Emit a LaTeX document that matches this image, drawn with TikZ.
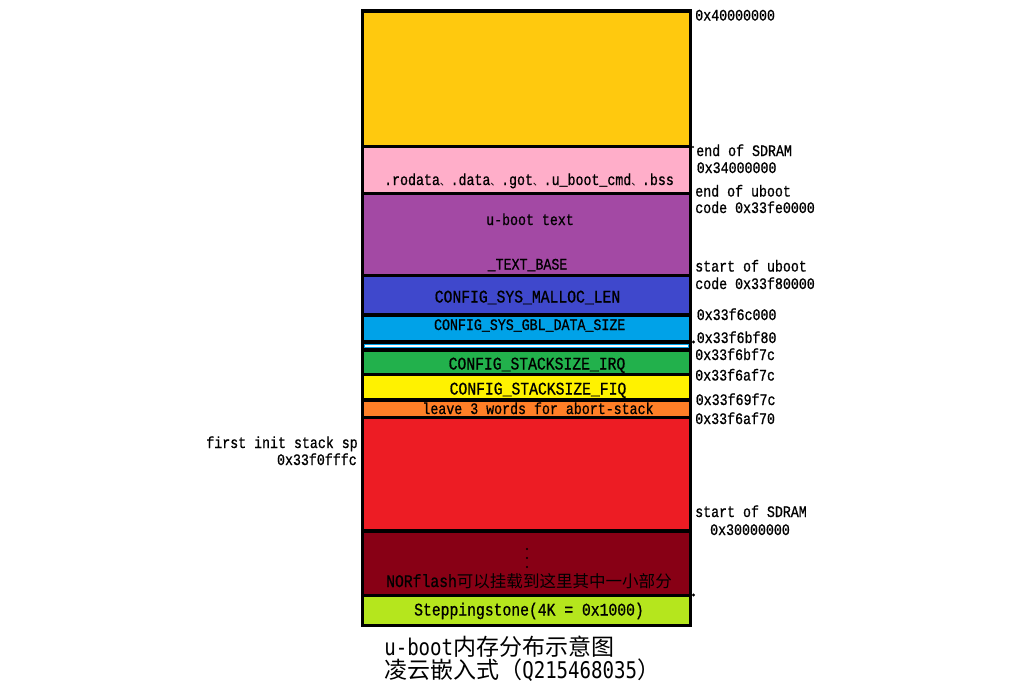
\documentclass[tikz,border=0pt]{standalone}
\usepackage{fontspec}
\newfontfamily\mono[FakeStretch=0.83,FakeBold=0.8]{Liberation Mono}
\newfontfamily\cjk{Noto Sans CJK SC}
\newfontfamily\capmono[FakeStretch=0.83]{DejaVu Sans Mono}
\newcommand\mycapfont{\capmono\fontsize{17.25}{17.25}\selectfont\lineskiplimit=-20pt\relax}
\definecolor{cGold}{HTML}{FFC90E}
\definecolor{cPink}{HTML}{FFAEC9}
\definecolor{cPurple}{HTML}{A349A4}
\definecolor{cBlue}{HTML}{3F48CC}
\definecolor{cCyan}{HTML}{00A2E8}
\definecolor{cGreen}{HTML}{22B14C}
\definecolor{cYellow}{HTML}{FFF200}
\definecolor{cOrange}{HTML}{FF7F27}
\definecolor{cRed}{HTML}{ED1C24}
\definecolor{cDark}{HTML}{880015}
\definecolor{cLime}{HTML}{B5E61D}
\begin{document}
\begin{tikzpicture}[x=0.75pt,y=-0.75pt,
  blk/.style={draw=black,line width=2.4pt},
  sm/.style={inner sep=0pt,anchor=base,font=\mono\fontsize{12}{12}\selectfont},
  lg/.style={inner sep=0pt,anchor=base,font=\mono\fontsize{13.3}{13.3}\selectfont},
  rl/.style={inner sep=0pt,anchor=base west,font=\mono\fontsize{12}{12}\selectfont},
  ll/.style={inner sep=0pt,anchor=base east,font=\mono\fontsize{12}{12}\selectfont},
  captext/.style={inner sep=0pt,anchor=base west,align=left,font=\mycapfont}]
\useasboundingbox (0,0) rectangle (1024,693);
\fill[white] (0,0) rectangle (1024,693);
% blocks
\draw[blk,fill=cGold]   (362.5,11)    rectangle (690.5,146.5);
\draw[blk,fill=cPink]   (362.5,146.5) rectangle (690.5,193.5);
\draw[blk,fill=cPurple] (362.5,193.5) rectangle (690.5,275.5);
\draw[blk,fill=cBlue]   (362.5,275.5) rectangle (690.5,315);
\draw[blk,fill=cCyan]   (362.5,315)   rectangle (690.5,342);
\draw[blk,fill=white]   (362.5,342)   rectangle (690.5,350);
\draw[cCyan,line width=0.8pt] (364.5,344.2) rectangle (688.5,347.8);
\draw[blk,fill=cGreen]  (362.5,350)   rectangle (690.5,374.5);
\draw[blk,fill=cYellow] (362.5,374.5) rectangle (690.5,400);
\draw[blk,fill=cOrange] (362.5,400)   rectangle (690.5,417.5);
\draw[blk,fill=cRed]    (362.5,417.5) rectangle (690.5,531);
\draw[blk,fill=cDark]   (362.5,531)   rectangle (690.5,595.5);
\draw[blk,fill=cLime]   (362.5,595.5) rectangle (690.5,625.5);
\fill (693.5,342) circle (1.6);
\fill (693.5,595) circle (1.6);
\fill (693,147) circle (1.1);
% vertical dots in the dark block
\fill (527,549) circle (1.2);
\fill (527,558) circle (1.2);
\fill (527,567) circle (1.2);
% inner labels
\node[sm] (ro) at (529,185) {.rodata{\cjk\fontsize{8}{8}\selectfont 、}.data{\cjk\fontsize{8}{8}\selectfont 、}.got{\cjk\fontsize{8}{8}\selectfont 、}.u\_boot\_cmd{\cjk\fontsize{8}{8}\selectfont 、}.bss};
\node[sm] (ut) at (530,225) {u-boot text};
\node[sm] (tb) at (527.5,269.5) {\_TEXT\_BASE};
\node[lg] (ml) at (527.5,302.5) {CONFIG\_SYS\_MALLOC\_LEN};
\node[sm] (gd) at (529.7,330) {CONFIG\_SYS\_GBL\_DATA\_SIZE};
\node[lg] (irq) at (537,369.5) {CONFIG\_STACKSIZE\_IRQ};
\node[lg] (fiq) at (538,394.5) {CONFIG\_STACKSIZE\_FIQ};
\node[sm] (ab) at (538,414) {leave 3 words for abort-stack};
\node[lg] (nor) at (529,587) {NORflash{\cjk\fontsize{12.4}{12.4}\selectfont 可以挂载到这里其中一小部分}};
\node[lg] (ss) at (529,615.5) {Steppingstone(4K = 0x1000)};
% right labels
\node[rl] (a1) at (695,20.5) {0x40000000};
\node[rl] (a2) at (696,156) {end of SDRAM};
\node[rl] (a3) at (696.5,173) {0x34000000};
\node[rl] (a4) at (695,196.5) {end of uboot};
\node[rl] (a5) at (695,213) {code 0x33fe0000};
\node[rl] (a6) at (695,271.5) {start of uboot};
\node[rl] (a7) at (695,289) {code 0x33f80000};
\node[rl] (a8) at (696.5,320) {0x33f6c000};
\node[rl] (a9) at (696.5,343) {0x33f6bf80};
\node[rl] (a10) at (695,360) {0x33f6bf7c};
\node[rl] (a11) at (695,380.5) {0x33f6af7c};
\node[rl] (a12) at (695.5,405) {0x33f69f7c};
\node[rl] (a13) at (695,424) {0x33f6af70};
\node[sm] (a14) at (751,517) {start of SDRAM};
\node[sm] (a15) at (750,535) {0x30000000};
% left labels
\node[ll] (l1) at (358,448) {first init stack sp};
\node[ll] (l2) at (357,465) {0x33f0fffc};
% caption
\node[captext] (cp) at (384,678) {u-boot{\cjk 内存分布示意图}\\{\cjk 凌云嵌入式（}Q215468035{\cjk ）}};
\end{tikzpicture}
\end{document}
